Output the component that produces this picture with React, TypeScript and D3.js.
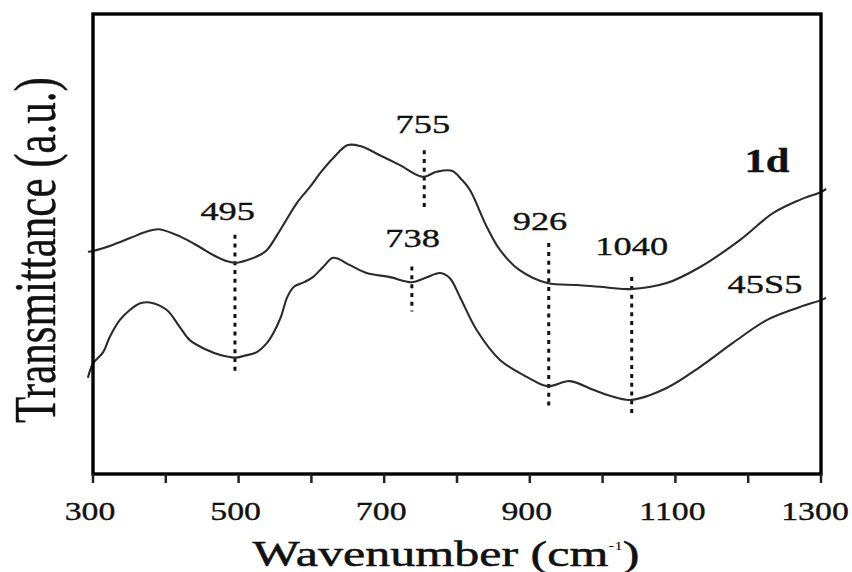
import React from 'react';
import * as d3 from 'd3';

// ---- data (wavenumber in cm^-1, transmittance in a.u.) ----
const wn1d = [293, 300, 327, 351, 374, 390, 420, 447, 465, 483, 495, 512, 529, 539, 557, 580, 598, 612, 630, 650, 667, 694, 721, 753, 772, 793, 807, 818, 841, 859, 886, 924, 965, 996, 1038, 1088, 1134, 1189, 1234, 1271, 1300, 1307];
const t1d = [48.3, 48.5, 49.8, 51.3, 52.7, 53.2, 51.6, 49.3, 47.6, 46.3, 45.9, 46.5, 47.6, 48.7, 53.0, 58.9, 62.4, 65.4, 68.7, 71.5, 71.3, 69.3, 67.2, 64.6, 65.7, 65.9, 63.9, 61.7, 53.7, 48.7, 44.3, 41.5, 41.1, 40.7, 40.2, 41.5, 45.0, 50.9, 56.7, 59.6, 61.3, 62.0];

const wn45S5 = [293, 300, 314, 323, 337, 351, 365, 378, 401, 419, 433, 456, 474, 495, 508, 525, 539, 548, 558, 567, 576, 590, 602, 616, 630, 653, 676, 708, 738, 756, 777, 790, 804, 827, 859, 896, 924, 955, 987, 1010, 1038, 1088, 1134, 1179, 1226, 1271, 1300, 1307];
const t45S5 = [20.9, 24.0, 26.5, 29.8, 33.5, 35.7, 37.1, 37.3, 35.7, 32.0, 29.1, 27.0, 25.9, 25.3, 25.7, 26.5, 28.5, 30.7, 34.1, 38.5, 40.7, 41.7, 42.8, 45.0, 47.0, 45.4, 43.7, 42.8, 41.7, 42.6, 43.7, 42.6, 38.5, 31.3, 24.8, 21.1, 19.1, 20.2, 18.3, 17.0, 16.1, 18.7, 23.3, 28.5, 33.5, 36.3, 37.8, 38.3];

const xTicks = [300, 400, 500, 600, 700, 800, 900, 1000, 1100, 1200, 1300];
const xTickLabels = [300, 500, 700, 900, 1100, 1300];

// band markers: wavenumber, dotted line top/bottom (a.u.), label centre wavenumber, label baseline (a.u.)
const markerWn = [495, 755, 738, 926, 1040];
const markerTop = [52.0, 70.4, 45.1, 50.2, 42.8];
const markerBottom = [21.5, 58.0, 35.3, 14.3, 12.2];
const labelWn = [485, 753, 739, 914, 1040];
const labelV = [55.2, 74.1, 49.3, 53.0, 47.6];

const seriesNames = ['1d', '45S5'];

const W = 852;
const H = 572;
const FONT = '"Liberation Serif", "Times New Roman", Times, serif';

const x = d3.scaleLinear().domain([300, 1300]).range([93, 821]);
const y = d3.scaleLinear().domain([0, 100]).range([474, 14]);

const line = d3
  .line<[number, number]>()
  .x((d) => x(d[0]))
  .y((d) => y(d[1]))
  .curve(d3.curveCatmullRom.alpha(0.5));

function SText(props: {
  x: number;
  y: number;
  size: number;
  sx?: number;
  weight?: string | number;
  children: React.ReactNode;
}) {
  const { size, sx = 1.4, weight = 'normal', children } = props;
  return (
    <text
      transform={`translate(${props.x},${props.y}) scale(${sx},1)`}
      fontSize={size}
      fontFamily={FONT}
      fontWeight={weight}
      textAnchor="middle"
      fill="#111"
      stroke="#111"
      strokeWidth={0.35}
    >
      {children}
    </text>
  );
}

export default function App() {
  const d1 = line(wn1d.map((w, i) => [w, t1d[i]] as [number, number])) || '';
  const d2 = line(wn45S5.map((w, i) => [w, t45S5[i]] as [number, number])) || '';
  const [x0, x1] = x.range();
  const [yb, yt] = y.range();

  return (
    <svg
      width={W}
      height={H}
      viewBox={`0 0 ${W} ${H}`}
      style={{ position: 'absolute', left: 0, top: 0, display: 'block', background: '#fff' }}
    >
      <rect x={0} y={0} width={W} height={H} fill="#fff" />

      {/* dotted band markers */}
      {markerWn.map((w, i) => (
        <line
          key={'m' + i}
          x1={x(w)}
          x2={x(w)}
          y1={y(markerTop[i])}
          y2={y(markerBottom[i])}
          stroke="#111"
          strokeWidth={3}
          strokeDasharray="4,4.8"
        />
      ))}

      {/* spectra */}
      <path d={d1} fill="none" stroke="#2b2b2b" strokeWidth={2.1} strokeLinejoin="round" />
      <path d={d2} fill="none" stroke="#2b2b2b" strokeWidth={2.1} strokeLinejoin="round" />

      {/* frame */}
      <rect x={x0} y={yt} width={x1 - x0} height={yb - yt} fill="none" stroke="#000" strokeWidth={3.4} />

      {/* x ticks */}
      {xTicks.map((t) => (
        <line key={'t' + t} x1={x(t)} x2={x(t)} y1={yb} y2={yb + 9} stroke="#222" strokeWidth={2.5} />
      ))}
      {xTickLabels.map((t, i) => (
        <SText key={'l' + t} x={x(t) - (i === xTickLabels.length - 1 ? 6 : 3)} y={520} size={26} sx={1.3}>
          {t}
        </SText>
      ))}

      {/* band labels */}
      {markerWn.map((w, i) => (
        <SText key={'b' + i} x={x(labelWn[i])} y={y(labelV[i])} size={26} sx={1.4}>
          {w}
        </SText>
      ))}

      {/* series labels */}
      <SText x={767} y={172} size={34} sx={1.25} weight="bold">
        {seriesNames[0]}
      </SText>
      <SText x={765} y={293} size={26} sx={1.4}>
        {seriesNames[1]}
      </SText>

      {/* axis titles */}
      <text
        transform={`translate(446,566) scale(1.43,1)`}
        fontSize={35}
        fontFamily={FONT}
        textAnchor="middle"
        fill="#111"
        stroke="#111"
        strokeWidth={0.5}
      >
        Wavenumber (cm
        <tspan fontSize={12} dy={-16} stroke="none">-1</tspan>
        <tspan dy={16}>)</tspan>
      </text>
      <text
        transform={`translate(55,250) rotate(-90) scale(1,1.4)`}
        fontSize={43}
        fontFamily={FONT}
        textAnchor="middle"
        fill="#111"
        stroke="#111"
        strokeWidth={0.3}
      >
        Transmittance (a.u.)
      </text>
    </svg>
  );
}
